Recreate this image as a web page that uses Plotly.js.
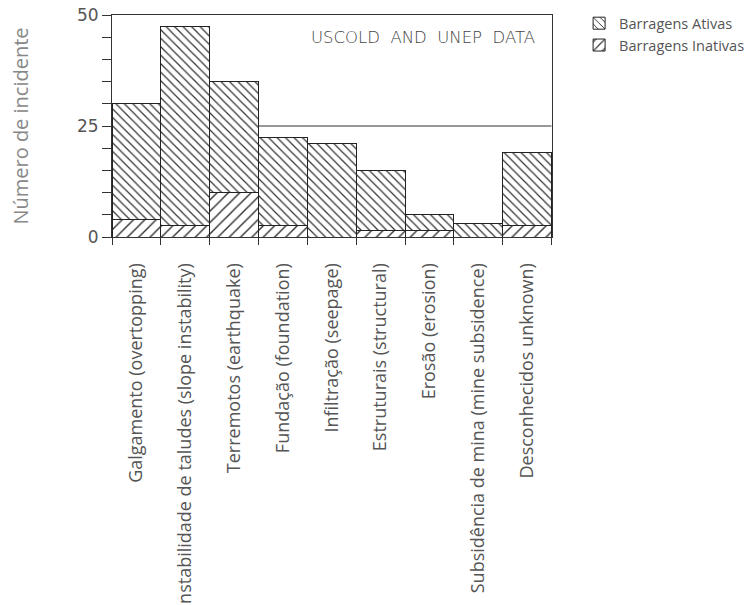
<!DOCTYPE html>
<html>
<head>
<meta charset="utf-8">
<script src="https://cdn.plot.ly/plotly-3.0.1.min.js"></script>
<style>html,body{margin:0;padding:0;background:#fff;}#chart{width:756px;height:605px;}</style>
</head>
<body>
<div id="chart"></div>
<script>
const categories = [
  "Galgamento (overtopping)",
  "Instabilidade de taludes (slope instability)",
  "Terremotos (earthquake)",
  "Fundação (foundation)",
  "Infiltração (seepage)",
  "Estruturais (structural)",
  "Erosão (erosion)",
  "Subsidência de mina (mine subsidence)",
  "Desconhecidos unknown)"
];
const inativas = [4, 2.5, 10, 2.5, 0, 1.5, 1.5, 0, 2.5];
const ativas = [26, 45, 25, 20, 21, 13.5, 3.5, 3, 16.5];
const yTickVals = [0, 5, 10, 15, 20, 25, 30, 35, 40, 45, 50];
const yTickText = ["0", "", "", "", "", "25", "", "", "", "", "50"];
const refLineValue = 25;

const traces = [
  {
    type: "bar", name: "Barragens Inativas", x: categories, y: inativas,
    marker: {color: "white", line: {color: "#222", width: 1},
      pattern: {shape: "/", fgcolor: "#333", bgcolor: "white", size: 8, solidity: 0.18}},
    hoverinfo: "skip"
  },
  {
    type: "bar", name: "Barragens Ativas", x: categories, y: ativas,
    marker: {color: "white", line: {color: "#222", width: 1},
      pattern: {shape: "\\", fgcolor: "#333", bgcolor: "white", size: 6, solidity: 0.2}},
    hoverinfo: "skip"
  }
];

const layout = {
  width: 756, height: 605,
  margin: {l: 112, r: 204, t: 15, b: 368.3},
  paper_bgcolor: "white", plot_bgcolor: "white",
  barmode: "stack", bargap: 0,
  showlegend: true,
  legend: {xref: "container", yref: "container", x: 0.766, y: 0.988, xanchor: "left", yanchor: "top",
    font: {family: "Open Sans", size: 14.5, color: "#555"},
    bgcolor: "rgba(0,0,0,0)", tracegroupgap: 0, itemwidth: 30},
  xaxis: {
    type: "category", showgrid: false, zeroline: false,
    showline: true, linecolor: "#333", linewidth: 1, mirror: true,
    ticks: "outside", tickson: "boundaries", ticklen: 7, tickcolor: "#333",
    tickangle: -90, ticklabelstandoff: 18,
    tickfont: {family: "Open Sans", size: 18, color: "#555"},
    automargin: false, fixedrange: true
  },
  yaxis: {
    range: [0, 50], showgrid: false, zeroline: false,
    showline: true, linecolor: "#333", linewidth: 1, mirror: true,
    ticks: "outside", ticklen: 9, tickcolor: "#333",
    tickvals: yTickVals, ticktext: yTickText,
    tickfont: {family: "DejaVu Sans", size: 17, color: "#555"},
    title: {text: "Número de incidente", font: {family: "Open Sans", size: 20, color: "#888"}, standoff: 42},
    automargin: false, fixedrange: true
  },
  shapes: [
    {type: "line", xref: "x", yref: "y", x0: 2.5, x1: 8.5, y0: refLineValue, y1: refLineValue,
      line: {color: "#333", width: 1}}
  ],
  annotations: [
    {text: "USCOLD\u00A0 AND\u00A0 UNEP\u00A0 DATA", xref: "paper", yref: "paper",
      x: 0.966, y: 0.9, xanchor: "right", yanchor: "middle", showarrow: false,
      font: {family: "DejaVu Sans", size: 16.5, color: "#444", weight: 300}}
  ]
};

Plotly.newPlot("chart", traces, layout, {displayModeBar: false, staticPlot: true});
</script>
</body>
</html>
